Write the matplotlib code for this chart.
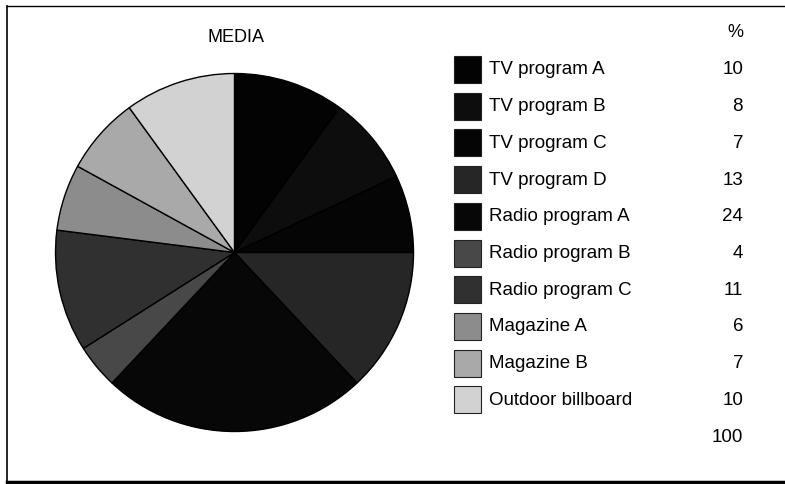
import matplotlib.pyplot as plt
from matplotlib.patches import Rectangle
from matplotlib.lines import Line2D

plt.rcParams['font.family'] = ['Liberation Sans', 'DejaVu Sans']

media = ["TV program A", "TV program B", "TV program C", "TV program D",
         "Radio program A", "Radio program B", "Radio program C",
         "Magazine A", "Magazine B", "Outdoor billboard"]
share = [10, 8, 7, 13, 24, 4, 11, 6, 7, 10]
shades = ["#030303", "#0d0d0d", "#050505", "#262626", "#070707",
          "#484848", "#303030", "#8c8c8c", "#a9a9a9", "#d2d2d2"]

W, H = 785, 484
fig = plt.figure(figsize=(W / 100, H / 100), dpi=100)

# pie, starting at 12 o'clock and running clockwise
cx, cy, r = 234.5, 252.5, 179
ax = fig.add_axes([(cx - r) / W, 1 - (cy + r) / H, 2 * r / W, 2 * r / H])
ax.pie(share, colors=shades, startangle=90, counterclock=False,
       wedgeprops=dict(edgecolor="black", linewidth=1.0))
ax.set_xlim(-1, 1)
ax.set_ylim(-1, 1)
ax.set_axis_off()

fig.text(236 / W, 1 - 38 / H, "MEDIA", ha="center", va="center", fontsize=13)
fig.text(743 / W, 1 - 33 / H, "%", ha="right", va="center", fontsize=13)

# legend table with percentages
row0, step = 70, 36.7
for i, (name, val, col) in enumerate(zip(media, share, shades)):
    y = row0 + i * step
    fig.patches.append(Rectangle((454 / W, 1 - (y + 13) / H), 27 / W, 27 / H,
                                 transform=fig.transFigure, facecolor=col,
                                 edgecolor="#222222", linewidth=0.8))
    fig.text(489 / W, 1 - y / H, name, ha="left", va="center", fontsize=13.5)
    fig.text(743 / W, 1 - y / H, str(val), ha="right", va="center", fontsize=13.5)
fig.text(743 / W, 1 - (row0 + len(media) * step) / H, str(sum(share)),
         ha="right", va="center", fontsize=13.5)

# outer frame
fig.lines.append(Line2D([7 / W, 7 / W], [1 - 6 / H, 1 - 482 / H],
                        transform=fig.transFigure, color="black", linewidth=1.2))
fig.lines.append(Line2D([7 / W, 1], [1 - 6 / H, 1 - 6 / H],
                        transform=fig.transFigure, color="black", linewidth=1.0))
fig.lines.append(Line2D([7 / W, 1], [1 - 482 / H, 1 - 482 / H],
                        transform=fig.transFigure, color="black", linewidth=2.5))

plt.savefig("out.png", dpi=100)
